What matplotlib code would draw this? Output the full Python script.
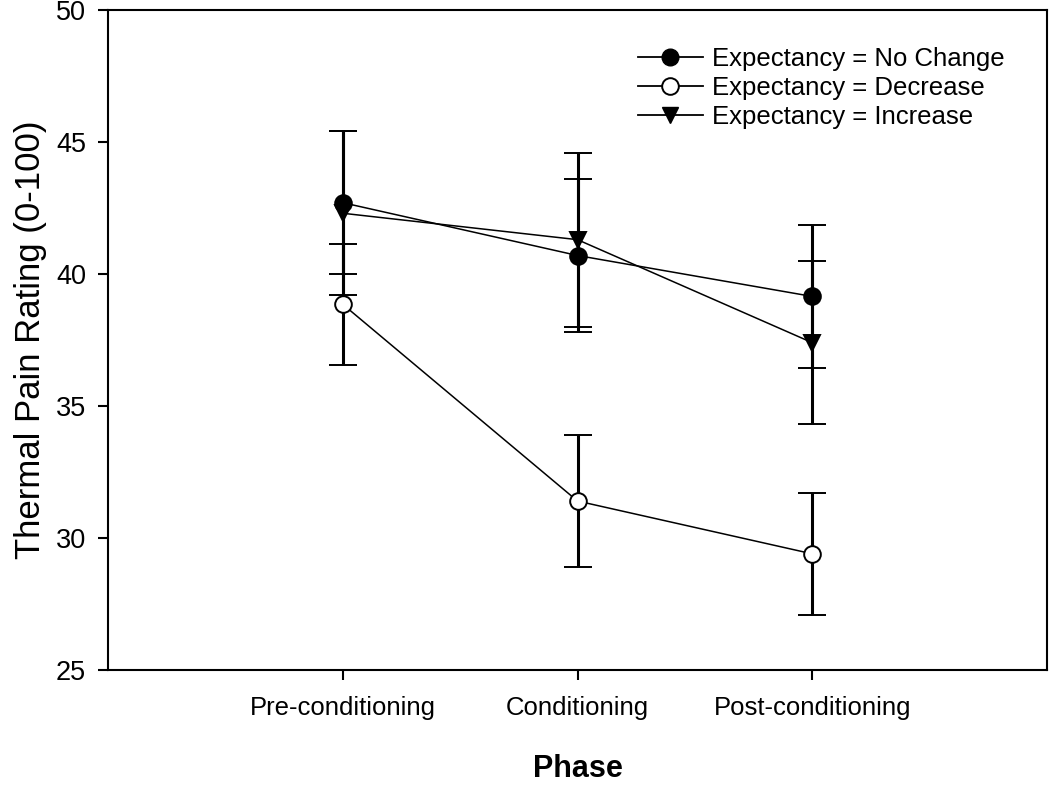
import matplotlib
matplotlib.use("Agg")
import matplotlib.pyplot as plt
from matplotlib.lines import Line2D

plt.rcParams['font.family'] = ['Liberation Sans', 'DejaVu Sans']

phases = ["Pre-conditioning", "Conditioning", "Post-conditioning"]
positions = [1, 2, 3]

nochange_mean = [42.7, 40.7, 39.15]
nochange_err = [2.7, 2.9, 2.7]
decrease_mean = [38.85, 31.4, 29.4]
decrease_err = [2.3, 2.5, 2.3]
increase_mean = [42.3, 41.3, 37.4]
increase_err = [3.1, 3.3, 3.1]

labels = ["Expectancy = No Change", "Expectancy = Decrease", "Expectancy = Increase"]

fig = plt.figure(figsize=(10.5, 7.86), dpi=100)
ax = fig.add_axes([0.103, 0.1476, 0.894, 0.8397])

common = dict(color='black', linewidth=1.1, elinewidth=2.2, capsize=10, capthick=2.2,
              markersize=12, markeredgewidth=1.4, markeredgecolor='black')
ax.errorbar(positions, nochange_mean, yerr=nochange_err, fmt='-o', markerfacecolor='black',
            label=labels[0], zorder=3, **common)
ax.errorbar(positions, decrease_mean, yerr=decrease_err, fmt='-o', markerfacecolor='white',
            label=labels[1], zorder=3, **common)
ax.errorbar(positions, increase_mean, yerr=increase_err, fmt='-v', markerfacecolor='black',
            label=labels[2], zorder=3, **common)

ax.set_xlim(0, 4)
ax.set_ylim(25, 50)
ax.set_yticks([25, 30, 35, 40, 45, 50])
ax.set_xticks(positions)
ax.set_xticklabels(phases)
ax.tick_params(axis='both', direction='out', length=7, width=1.5, labelsize=18.5)
ax.tick_params(axis='x', pad=12)
ax.tick_params(axis='y', pad=9, labelsize=19.5)
for s in ax.spines.values():
    s.set_linewidth(1.5)

ax.set_ylabel("Thermal Pain Rating (0-100)", fontsize=25, labelpad=6)
ax.set_xlabel("Phase", fontsize=22, fontweight='bold', labelpad=24)

handles = [
    Line2D([], [], color='black', lw=1.3, marker='o', markersize=12, markerfacecolor='black', markeredgecolor='black'),
    Line2D([], [], color='black', lw=1.3, marker='o', markersize=12, markerfacecolor='white', markeredgecolor='black', markeredgewidth=1.4),
    Line2D([], [], color='black', lw=1.3, marker='v', markersize=12, markerfacecolor='black', markeredgecolor='black'),
]
ax.legend(handles, labels, loc='upper right', bbox_to_anchor=(0.971, 0.968), frameon=False,
          fontsize=18.5, handlelength=2.5, handletextpad=0.35, labelspacing=0.2, borderaxespad=0.2)

fig.savefig("out.png", dpi=100)
